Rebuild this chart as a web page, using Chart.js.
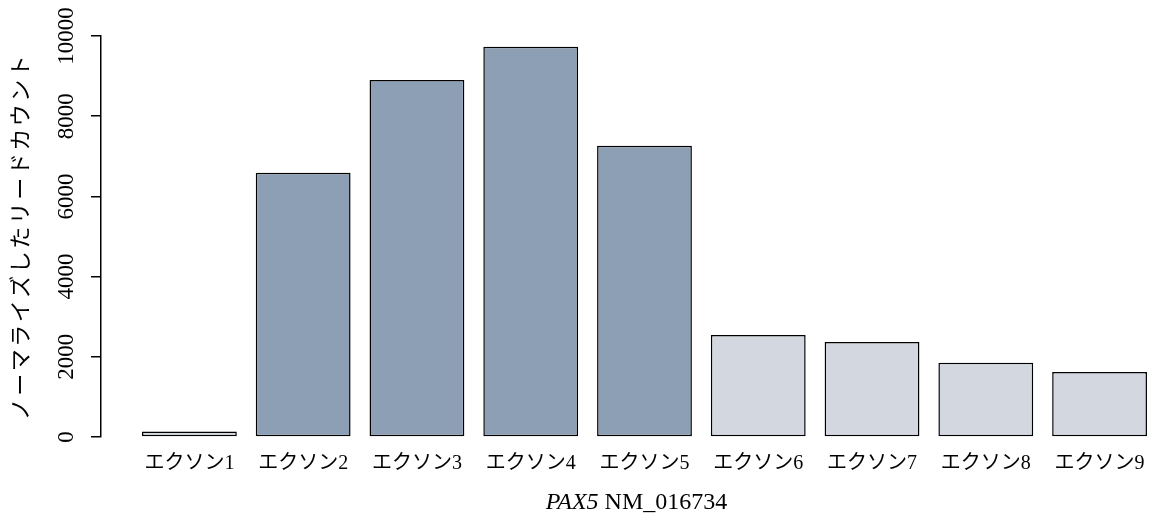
<!DOCTYPE html>
<html>
<head>
<meta charset="utf-8">
<script src="https://cdn.jsdelivr.net/npm/chart.js@4/dist/chart.umd.min.js"></script>
<style>
  html, body { margin: 0; padding: 0; background: #fff; }
  #wrap { width: 1152px; height: 515px; position: relative; }
</style>
</head>
<body>
<div id="wrap"><canvas id="c" width="1152" height="515"></canvas></div>
<script>
const categories = ["エクソン1", "エクソン2", "エクソン3", "エクソン4", "エクソン5", "エクソン6", "エクソン7", "エクソン8", "エクソン9"];
const readCounts = [140, 6590, 8900, 9730, 7260, 2545, 2370, 1850, 1620];
const highlighted = [false, true, true, true, true, false, false, false, false];
const yTicks = [0, 2000, 4000, 6000, 8000, 10000];
const yTitle = "ノーマライズしたリードカウント";
const xTitleItalic = "PAX5";
const xTitleRest = " NM_016734";

const DARK = "#8d9fb5";
const LIGHT = "#d3d8e0";
const FONT = "'Liberation Serif', 'Noto Sans CJK JP', serif";

// R barplot layout: width 1, space 0.2 -> centres at 0.7 + 1.2*i
const SPACE = 0.2;
const centres = categories.map((_, i) => SPACE + 0.5 + i * (1 + SPACE));

const titlesPlugin = {
  id: "titles",
  afterDraw(chart) {
    const ctx = chart.ctx;
    const a = chart.chartArea;
    ctx.save();
    ctx.fillStyle = "#000";
    // x title with italic gene name
    ctx.textBaseline = "alphabetic";
    const fI = "italic 24px " + FONT;
    const fN = "24px " + FONT;
    ctx.font = fI; const wI = ctx.measureText(xTitleItalic).width;
    ctx.font = fN; const wN = ctx.measureText(xTitleRest).width;
    const cx = (a.left + a.right) / 2 + 10;
    const x = cx - (wI + wN) / 2;
    const y = 509;
    ctx.font = fI; ctx.textAlign = "left"; ctx.fillText(xTitleItalic, x, y);
    ctx.font = fN; ctx.fillText(xTitleRest, x + wI, y);
    // y title, rotated, slightly letter-spaced
    ctx.translate(22, (a.top + a.bottom) / 2);
    ctx.rotate(-Math.PI / 2);
    ctx.font = "22px " + FONT;
    ctx.letterSpacing = "2.5px";
    ctx.textAlign = "center";
    ctx.textBaseline = "middle";
    ctx.fillText(yTitle, 0, 0);
    ctx.restore();
  }
};

new Chart(document.getElementById("c"), {
  type: "bar",
  data: {
    datasets: [{
      data: readCounts.map((v, i) => ({ x: centres[i], y: v })),
      backgroundColor: highlighted.map(h => h ? DARK : LIGHT),
      borderColor: "#000",
      borderWidth: 1.5,
      borderSkipped: false,
      categoryPercentage: 1,
      barPercentage: 1 / (1 + SPACE)
    }]
  },
  options: {
    responsive: false,
    animation: false,
    devicePixelRatio: 1,
    layout: { padding: { top: 36, right: 0, left: 0, bottom: 0 } },
    plugins: { legend: { display: false }, tooltip: { enabled: false } },
    scales: {
      x: {
        type: "linear",
        offset: false,
        min: -0.2324,
        max: 10.853,
        grid: { display: false, drawTicks: true, tickLength: 15, offset: false },
        border: { display: false },
        afterBuildTicks(scale) { scale.ticks = centres.map(v => ({ value: v })); },
        afterFit(scale) { scale.height = 78; },
        ticks: {
          autoSkip: false,
          maxRotation: 0,
          minRotation: 0,
          padding: 0,
          color: "#000",
          font: { family: FONT, size: 20 },
          callback: (value, index) => categories[index]
        }
      },
      y: {
        min: 0,
        max: 10000,
        afterBuildTicks(scale) { scale.ticks = yTicks.map(v => ({ value: v })); },
        afterFit(scale) { scale.width = 101; },
        grid: { display: true, drawOnChartArea: false, drawTicks: true, tickLength: 10, color: "#000", lineWidth: 1.5 },
        border: { display: true, color: "#000", width: 1.5 },
        title: { display: false },
        ticks: {
          minRotation: 90,
          maxRotation: 90,
          crossAlign: "center",
          padding: -5,
          color: "#000",
          font: { family: FONT, size: 23 },
          callback: (value) => String(value)
        }
      }
    }
  },
  plugins: [titlesPlugin]
});
</script>
</body>
</html>
